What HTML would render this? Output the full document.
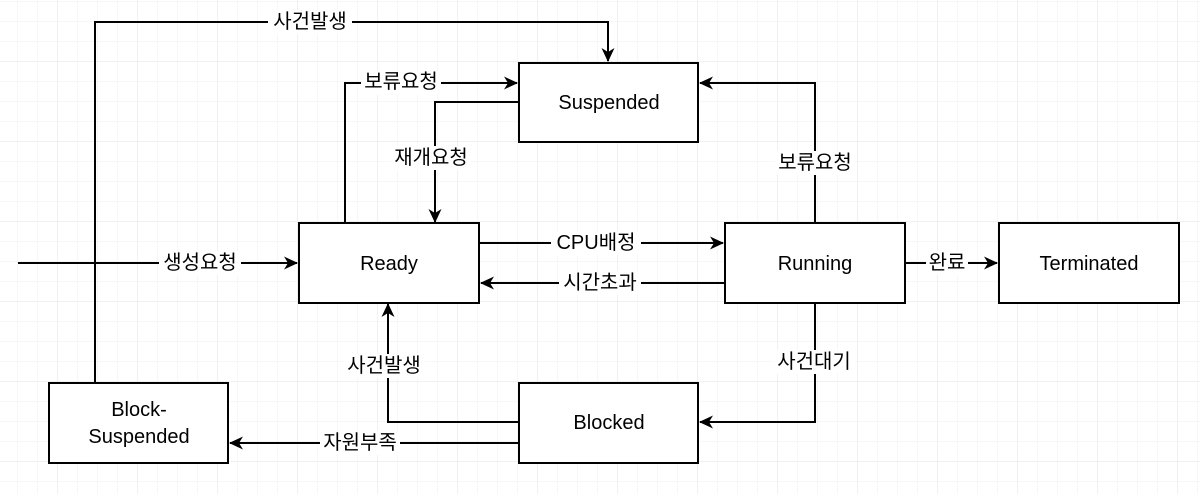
<!DOCTYPE html>
<html><head><meta charset="utf-8"><style>
html,body{margin:0;padding:0;background:#fff;}
svg{display:block;}
text{font-family:"Liberation Sans","Noto Sans CJK KR",sans-serif;font-size:20px;fill:#000;}
</style></head><body>
<svg width="1200" height="494" xmlns="http://www.w3.org/2000/svg">
<defs>
<pattern id="g" x="-2" y="2" width="20" height="20" patternUnits="userSpaceOnUse">
<path d="M20 0V20M0 20H20" stroke="#efefef" stroke-width="1" fill="none"/>
</pattern>
<pattern id="G" x="-22" y="-18" width="80" height="80" patternUnits="userSpaceOnUse">
<path d="M80 0V80M0 80H80" stroke="#e3e3e3" stroke-width="1" fill="none"/>
</pattern>
<marker id="a" markerWidth="16" markerHeight="14" refX="13" refY="7" orient="auto" markerUnits="userSpaceOnUse">
<path d="M0,0.5 L14,7 L0,13.5 L4,7 Z" fill="#000"/>
</marker>
</defs>
<rect width="1200" height="494" fill="url(#g)"/>
<rect width="1200" height="494" fill="url(#G)"/>
<g stroke="#000" stroke-width="2" fill="none">
<polyline points="95,383 95,22 608,22 608,61" marker-end="url(#a)"/>
<polyline points="345,223 345,83 517,83" marker-end="url(#a)"/>
<polyline points="519,102 435,102 435,222" marker-end="url(#a)"/>
<polyline points="815,223 815,83 700,83" marker-end="url(#a)"/>
<polyline points="479,243 723,243" marker-end="url(#a)"/>
<polyline points="725,283 481,283" marker-end="url(#a)"/>
<polyline points="18,263 297,263" marker-end="url(#a)"/>
<polyline points="905,263 997,263" marker-end="url(#a)"/>
<polyline points="815,303 815,422 700,422" marker-end="url(#a)"/>
<polyline points="519,422 388,422 388,304" marker-end="url(#a)"/>
<polyline points="519,443 230,443" marker-end="url(#a)"/>
</g>
<g stroke="#000" stroke-width="2" fill="#fff">
<rect x="519" y="63" width="179" height="79"/>
<rect x="299" y="223" width="180" height="80"/>
<rect x="725" y="223" width="180" height="80"/>
<rect x="999" y="223" width="180" height="80"/>
<rect x="519" y="383" width="179" height="80"/>
<rect x="49" y="383" width="179" height="80"/>
</g>
<g text-anchor="middle" dominant-baseline="central">
<text x="609" y="103">Suspended</text>
<text x="389" y="264">Ready</text>
<text x="815" y="264">Running</text>
<text x="1089" y="264">Terminated</text>
<text x="609" y="423">Blocked</text>
<text x="139" y="410">Block-</text>
<text x="139" y="437">Suspended</text>
</g>
<g text-anchor="middle" dominant-baseline="central">
<rect x="268" y="10" width="84" height="24" fill="#fff"/><text x="310" y="22">사건발생</text>
<rect x="361" y="71" width="80" height="24" fill="#fff"/><text x="401" y="82">보류요청</text>
<rect x="391" y="146" width="80" height="24" fill="#fff"/><text x="431" y="158">재개요청</text>
<rect x="775" y="151" width="80" height="24" fill="#fff"/><text x="815" y="163">보류요청</text>
<rect x="551" y="231" width="90" height="24" fill="#fff"/><text x="596" y="243">CPU배정</text>
<rect x="559" y="271" width="82" height="24" fill="#fff"/><text x="600" y="283">시간초과</text>
<rect x="159" y="251" width="82" height="24" fill="#fff"/><text x="200" y="263">생성요청</text>
<rect x="926" y="251" width="42" height="24" fill="#fff"/><text x="947" y="263">완료</text>
<rect x="773" y="350" width="82" height="24" fill="#fff"/><text x="814" y="362">사건대기</text>
<rect x="343" y="354" width="82" height="24" fill="#fff"/><text x="384" y="366">사건발생</text>
<rect x="320" y="431" width="80" height="24" fill="#fff"/><text x="360" y="443">자원부족</text>
</g>
</svg>
</body></html>
